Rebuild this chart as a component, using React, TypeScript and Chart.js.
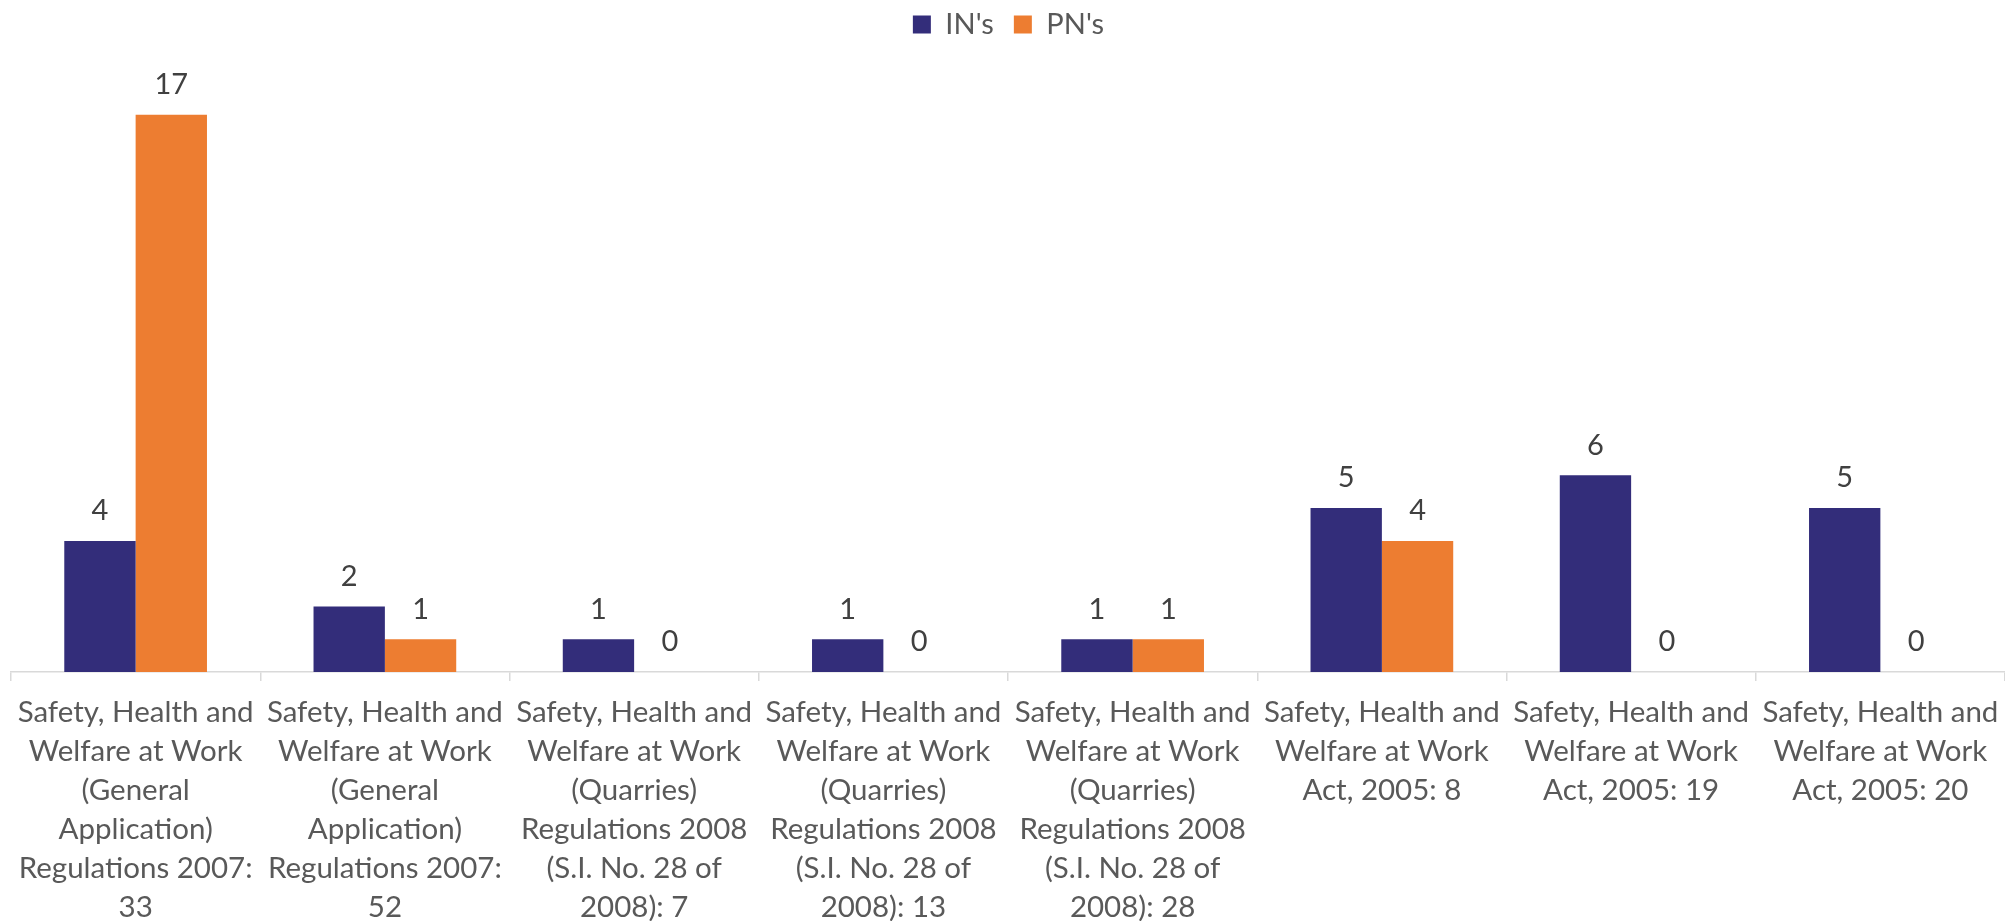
import React, { useEffect, useRef } from "react";
import { Chart, registerables } from "chart.js";

Chart.register(...registerables);

const categories: string[][] = [
  ["Safety, Health and", "Welfare at Work", "(General", "Application)", "Regulations 2007:", "33"],
  ["Safety, Health and", "Welfare at Work", "(General", "Application)", "Regulations 2007:", "52"],
  ["Safety, Health and", "Welfare at Work", "(Quarries)", "Regulations 2008", "(S.I. No. 28 of", "2008): 7"],
  ["Safety, Health and", "Welfare at Work", "(Quarries)", "Regulations 2008", "(S.I. No. 28 of", "2008): 13"],
  ["Safety, Health and", "Welfare at Work", "(Quarries)", "Regulations 2008", "(S.I. No. 28 of", "2008): 28"],
  ["Safety, Health and", "Welfare at Work", "Act, 2005: 8"],
  ["Safety, Health and", "Welfare at Work", "Act, 2005: 19"],
  ["Safety, Health and", "Welfare at Work", "Act, 2005: 20"],
];

const inValues: number[] = [4, 2, 1, 1, 1, 5, 6, 5];
const pnValues: number[] = [17, 1, 0, 0, 1, 4, 0, 0];
const seriesNames: string[] = ["IN's", "PN's"];
const yMin = 0;
const yMax = 18;

const FONT = "Lato, 'Open Sans', sans-serif";

export default function App() {
  const canvasRef = useRef<HTMLCanvasElement | null>(null);

  useEffect(() => {
    document.body.style.margin = "0";
    const canvas = canvasRef.current;
    if (!canvas) return;

    const valueLabels = {
      id: "valueLabels",
      afterDatasetsDraw(chart: any) {
        const ctx = chart.ctx;
        ctx.save();
        ctx.font = `29px ${FONT}`;
        ctx.fillStyle = "#404040";
        ctx.textAlign = "center";
        ctx.textBaseline = "middle";
        chart.data.datasets.forEach((ds: any, di: number) => {
          const meta = chart.getDatasetMeta(di);
          meta.data.forEach((el: any, i: number) => {
            const v = ds.data[i];
            ctx.fillText(String(v), el.x, el.y - 30);
          });
        });
        ctx.restore();
      },
    };

    const legendSpacer = {
      id: "legendSpacer",
      afterInit(chart: any) {
        const lg = chart.legend;
        if (!lg) return;
        const orig = lg.fit;
        lg.fit = function () {
          orig.call(this);
          this.height += 33;
        };
      },
    };

    const chart = new Chart(canvas, {
      type: "bar",
      data: {
        labels: categories,
        datasets: [
          {
            label: seriesNames[0],
            data: inValues,
            backgroundColor: "#332D7A",
            borderWidth: 0,
            categoryPercentage: 0.5725,
            barPercentage: 1.0,
          },
          {
            label: seriesNames[1],
            data: pnValues,
            backgroundColor: "#ED7D31",
            borderWidth: 0,
            categoryPercentage: 0.5725,
            barPercentage: 1.0,
          },
        ],
      },
      options: {
        responsive: false,
        animation: false,
        layout: { padding: { left: 11, right: -1, top: -10, bottom: 0 } },
        plugins: {
          tooltip: { enabled: false },
          legend: {
            display: true,
            position: "top",
            labels: {
              boxWidth: 18,
              boxHeight: 18,
              padding: 20,
              color: "#595959",
              font: { family: FONT, size: 29 },
            },
          },
        },
        scales: {
          x: {
            grid: {
              offset: true,
              drawOnChartArea: false,
              drawTicks: true,
              tickLength: 9,
              color: "#d9d9d9",
              lineWidth: 1.5,
            },
            border: { display: true, color: "#d9d9d9", width: 1.5 },
            ticks: {
              autoSkip: false,
              maxRotation: 0,
              minRotation: 0,
              padding: 12,
              color: "#595959",
              font: { family: FONT, size: 29.5, lineHeight: "39px" },
            },
            afterFit(scale: any) {
              scale.height = 249;
              scale.paddingLeft = 0;
              scale.paddingRight = 0;
            },
          },
          y: {
            display: false,
            min: yMin,
            max: yMax,
          },
        },
      },
      plugins: [valueLabels, legendSpacer],
    });

    return () => chart.destroy();
  }, []);

  return (
    <div style={{ position: "relative", width: 2005, height: 921 }}>
      <canvas ref={canvasRef} width={2005} height={921} style={{ display: "block" }} />
    </div>
  );
}
